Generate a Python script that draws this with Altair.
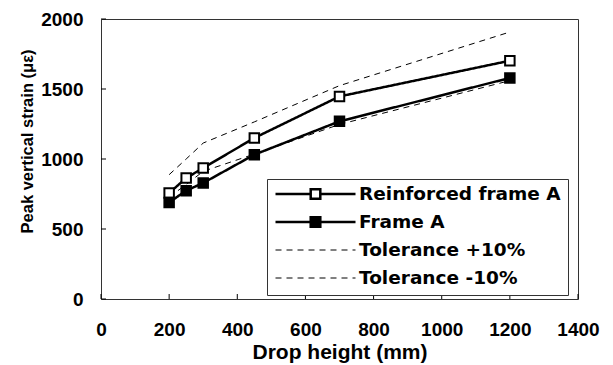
import altair as alt
import pandas as pd

# ---- data ----
series_names = ["Reinforced frame A", "Frame A", "Tolerance +10%", "Tolerance -10%"]
marker_series = ["Reinforced frame A", "Frame A"]
drop_height = [200, 250, 300, 450, 700, 1200]
reinforced = [757, 864, 936, 1150, 1447, 1702]
frame_a = [690, 774, 829, 1031, 1269, 1579]
tol_plus = [888, 1000, 1114, 1265, 1524, 1907]
tol_minus = [727, 818, 912, 1035, 1247, 1560]
x_ticks = [0, 200, 400, 600, 800, 1000, 1200, 1400]
y_ticks = [0, 500, 1000, 1500, 2000]

rows = []
for name, vals in zip(series_names, [reinforced, frame_a, tol_plus, tol_minus]):
    for h, v in zip(drop_height, vals):
        rows.append({"h": h, "strain": v, "series": name})
df = pd.DataFrame(rows)

# ---- styles ----
marker_path = "M-1,0H-0.12M0.12,0H1M-0.12,-0.12H0.12V0.12H-0.12Z"
dash_range = [[1, 0], [1, 0], [6, 5], [6, 5]]
width_range = [2.5, 2.5, 1, 1]
fill_range = ["white", "black", "transparent", "transparent"]
shape_range = [marker_path, marker_path, "stroke", "stroke"]

legend_def = alt.Legend(
    title=None, orient="none", legendX=166, legendY=160,
    padding=7, fillColor="white", strokeColor="#333",
    clipHeight=16, rowPadding=9, symbolSize=6400, labelOffset=2,
    symbolOffset=0, labelFont="DejaVu Sans", labelFontSize=18.5,
    labelFontWeight="bold", labelLimit=400, labelColor="black",
    symbolStrokeColor="black",
)

x_scale = alt.Scale(domain=[0, 1400], nice=False, zero=False)
y_scale = alt.Scale(domain=[0, 2000], nice=False, zero=False)

x_axis = alt.Axis(
    values=x_ticks, format="d", title="Drop height (mm)", ticks=False, domain=False, grid=False,
    labelFont="Liberation Sans", labelFontSize=19, labelFontWeight="bold",
    labelColor="black", labelPadding=30, labelBaseline="middle",
    labelFlush=False, labelOverlap=False,
    titleFont="Liberation Sans", titleFontSize=21, titleFontWeight="bold",
    titleColor="black", titleY=53, titleBaseline="middle",
)
y_axis = alt.Axis(
    values=y_ticks, format="d", title="Peak vertical strain (με)", ticks=False, domain=False, grid=False,
    labelFont="Liberation Sans", labelFontSize=19, labelFontWeight="bold",
    labelColor="black", labelPadding=18, labelFlush=False, labelOverlap=False,
    titleFont="Liberation Sans", titleFontSize=16.5, titleFontWeight="bold",
    titleColor="black", titleX=-74, titleY=122, titleAngle=270,
    titleBaseline="middle", titleAlign="center",
)

X = alt.X("h:Q", scale=x_scale, axis=x_axis)
Y = alt.Y("strain:Q", scale=y_scale, axis=y_axis)

xticks_layer = alt.Chart(pd.DataFrame({"h": x_ticks})).mark_tick(
    orient="vertical", size=5, thickness=1, yOffset=-2.5, color="black", opacity=1
).encode(x=X, y=alt.datum(0))

yticks_layer = alt.Chart(pd.DataFrame({"strain": y_ticks})).mark_tick(
    orient="horizontal", size=5, thickness=1, xOffset=2.5, color="black", opacity=1
).encode(y=Y, x=alt.datum(0))

lines = alt.Chart(df).mark_line(color="black").encode(
    x=X, y=Y,
    strokeDash=alt.StrokeDash("series:N", scale=alt.Scale(domain=series_names, range=dash_range), legend=legend_def),
    strokeWidth=alt.StrokeWidth("series:N", scale=alt.Scale(type="ordinal", domain=series_names, range=width_range), legend=legend_def),
)

points = alt.Chart(df).transform_filter(
    alt.FieldOneOfPredicate(field="series", oneOf=marker_series)
).mark_point(shape="square", size=90, strokeWidth=2, color="black", opacity=1).encode(
    x=X, y=Y,
    fill=alt.Fill("series:N", scale=alt.Scale(domain=series_names, range=fill_range), legend=legend_def),
)

legend_layer = alt.Chart(df).transform_filter("false").mark_point(color="black", opacity=1).encode(
    x=X, y=Y,
    shape=alt.Shape("series:N", scale=alt.Scale(domain=series_names, range=shape_range), legend=legend_def),
)

chart = alt.layer(xticks_layer, yticks_layer, lines, points, legend_layer).properties(
    width=477, height=280,
    padding={"left": 101, "top": 19, "right": 35, "bottom": 66},
    autosize=alt.AutoSizeParams(type="none"),
    background="white",
).configure_view(stroke="#333", strokeWidth=1)

chart.save("out.html", embed_options={"renderer": "svg", "actions": False})
